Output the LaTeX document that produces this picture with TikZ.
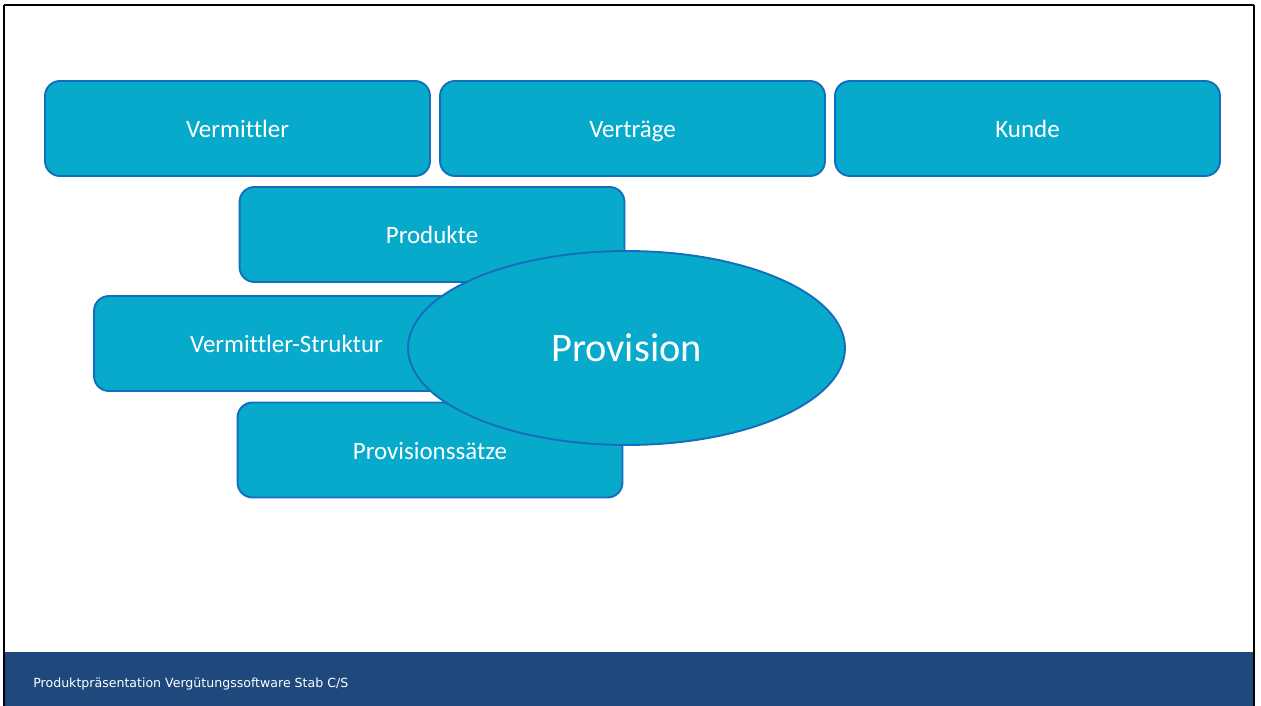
\documentclass[tikz,border=0pt]{standalone}
\usepackage{fontspec}
\setmainfont{Carlito}[Ligatures=NoCommon]
\newfontfamily\footfont{DejaVu Sans}
\usepackage{tikz}
\usetikzlibrary{shapes.geometric}
\definecolor{kachelfill}{RGB}{8,170,203}
\definecolor{kachelline}{RGB}{20,110,190}
\definecolor{balken}{RGB}{31,73,125}

\begin{document}
\begin{tikzpicture}[x=0.02cm,y=-0.02cm,
	kachel/.style={draw=kachelline,fill=kachelfill,line width=1.1pt,rounded corners=8.5pt,
		minimum width=7.7cm,minimum height=1.9cm,inner sep=0pt,text=white,
		text height=12pt,text depth=1.2pt,
		font=\fontsize{14.2}{17}\selectfont},
	kern/.style={ellipse,draw=kachelline,fill=kachelfill,line width=1.1pt,inner sep=0pt,
		minimum width=8.74cm,minimum height=3.88cm,text=white,
		font=\fontsize{23}{27}\selectfont}]
			\useasboundingbox(0,0) rectangle (1261,706);

			% Rahmen und Fusszeile
			\fill[balken](5,652) rectangle (1254,706);
			\draw[line width=1.3pt](4,5) -- (1254,5);
			\draw[line width=1.3pt](4,5) -- (4,706);
			\draw[line width=1.3pt](1254,5) -- (1254,706);
			\node[anchor=base west,text=white,inner sep=0pt] (fuss) at(33,687){\footfont\fontsize{7.15}{8}\selectfont Produktpräsentation Vergütungssoftware Stab C/S};

			% obere Reihe
			\node[kachel] (vermittler) at(237.5,128.5){Vermittler};
			\node[kachel] (vertraege) at(632.5,128.5){Verträge};
			\node[kachel] (kunde) at(1027.5,128.5){Kunde};

			% linke Spalte
			\node[kachel] (produkte) at(432,234.5){Produkte};
			\node[kachel] (struktur) at(286.5,343.5){Vermittler-Struktur};
			\node[kachel] (saetze) at(430,450){Provisionssätze};

			\node[kern] (provision) at(626.5,348){Provision};
		\end{tikzpicture}
\end{document}
